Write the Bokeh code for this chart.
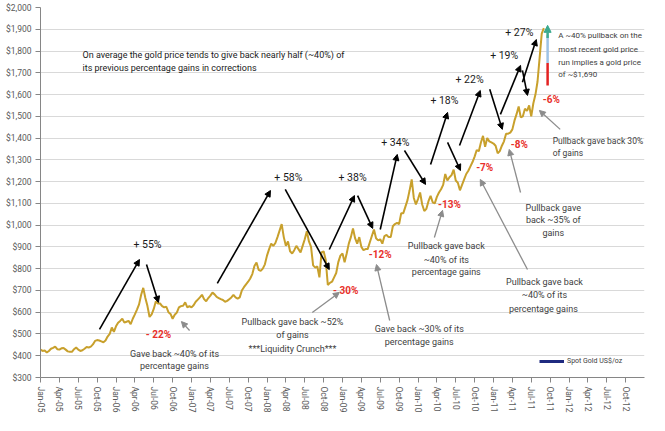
import math
from bokeh.plotting import figure
from bokeh.core.properties import value
from bokeh.models import (Range1d, FixedTicker, NumeralTickFormatter, Arrow, NormalHead,
                          LabelSet, ColumnDataSource, Legend, LegendItem)
from bokeh.embed import file_html
from bokeh.resources import INLINE

# ---------------- data (spot gold, US$/oz, ~3 readings per month) ----------------
gold_2005 = [428, 422, 424, 415, 422, 432, 436, 442, 430, 428, 434, 436, 428, 420, 418, 418, 430, 438,
             428, 422, 425, 432, 440, 438, 442, 452, 468, 472, 470, 466, 462, 470, 488, 500, 530, 510]
gold_2006 = [535, 552, 560, 570, 552, 556, 560, 545, 570, 590, 612, 636, 680, 712, 665, 628, 578, 590,
             615, 650, 640, 640, 628, 622, 625, 600, 592, 570, 588, 598, 622, 628, 630, 645, 622, 628]
gold_2007 = [622, 632, 648, 658, 668, 680, 660, 650, 665, 676, 690, 682, 670, 665, 660, 656, 648, 652,
             660, 668, 680, 668, 662, 668, 700, 715, 728, 740, 755, 775, 812, 828, 795, 790, 800, 820]
gold_2008 = [860, 890, 915, 905, 918, 945, 975, 1005, 945, 905, 925, 880, 870, 885, 905, 890, 875, 905,
             935, 972, 925, 900, 815, 805, 810, 760, 875, 880, 840, 725, 735, 740, 760, 780, 830, 860]
gold_2009 = [870, 830, 870, 915, 945, 985, 940, 915, 945, 900, 885, 890, 890, 920, 950, 980, 940, 930,
             935, 915, 950, 955, 945, 945, 995, 1005, 1010, 1005, 1055, 1055, 1085, 1115, 1160, 1210, 1125, 1095]
gold_2010 = [1120, 1150, 1095, 1065, 1075, 1110, 1135, 1105, 1100, 1130, 1150, 1165, 1185, 1235, 1205,
             1220, 1230, 1255, 1205, 1195, 1160, 1185, 1210, 1235, 1250, 1270, 1290, 1315, 1345, 1340,
             1380, 1410, 1360, 1400, 1385, 1380]
gold_2011 = [1375, 1365, 1330, 1340, 1365, 1385, 1420, 1420, 1425, 1440, 1480, 1510, 1545, 1495, 1500,
             1535, 1525, 1550, 1500, 1560, 1600, 1660, 1770, 1880, 1905]

gold_price = gold_2005 + gold_2006 + gold_2007 + gold_2008 + gold_2009 + gold_2010 + gold_2011
month_pos = [i / 3 for i in range(len(gold_price))]   # months since Jan-05

quarter_labels = ["Jan-05", "Apr-05", "Jul-05", "Oct-05", "Jan-06", "Apr-06", "Jul-06", "Oct-06",
                  "Jan-07", "Apr-07", "Jul-07", "Oct-07", "Jan-08", "Apr-08", "Jul-08", "Oct-08",
                  "Jan-09", "Apr-09", "Jul-09", "Oct-09", "Jan-10", "Apr-10", "Jul-10", "Oct-10",
                  "Jan-11", "Apr-11", "Jul-11", "Oct-11", "Jan-12", "Apr-12", "Jul-12", "Oct-12"]
quarter_ticks = [3 * i for i in range(len(quarter_labels))]
price_ticks = list(range(300, 2001, 100))

gain_text = ["+ 55%", "+ 58%", "+ 38%", "+ 34%", "+ 18%", "+ 22%", "+ 19%", "+ 27%"]
loss_text = ["- 22%", "- 30%", "-12%", "-13%", "-7%", "-8%", "-6%"]

FONT = "Roboto"

p = figure(width=655, height=420, output_backend="svg", toolbar_location=None,
           x_range=Range1d(0, 96), y_range=Range1d(300, 2000),
           min_border_left=40, min_border_right=11, min_border_top=7, min_border_bottom=43)
p.outline_line_color = None
p.background_fill_color = "white"
p.border_fill_color = "white"

p.xgrid.grid_line_color = None
p.ygrid.grid_line_color = "#D9D9D9"
p.ygrid.ticker = FixedTicker(ticks=price_ticks)

p.yaxis.ticker = FixedTicker(ticks=price_ticks)
p.yaxis.formatter = NumeralTickFormatter(format="$0,0")
p.xaxis.ticker = FixedTicker(ticks=quarter_ticks)
p.xaxis.major_label_overrides = {t: l for t, l in zip(quarter_ticks, quarter_labels)}
p.xaxis.major_label_orientation = -math.pi / 2
for ax in (p.xaxis, p.yaxis):
    ax.axis_line_color = "#868686"
    ax.major_tick_line_color = "#868686"
    ax.minor_tick_line_color = None
    ax.major_tick_in = 0
    ax.major_tick_out = 5
    ax.major_label_text_font = FONT
    ax.major_label_text_font_size = "8.5px"
    ax.major_label_text_color = "#595959"
    ax.major_label_standoff = 4

# gold line
p.line(month_pos, gold_price, line_color="#C8A02C", line_width=2)

# legend (navy swatch, as in the original; its data sits outside the visible range)
dummy = p.line([-20, -19], [0, 0], line_color="#1F2A80", line_width=3)
legend = Legend(items=[LegendItem(label="Spot Gold US$/oz", renderers=[dummy])],
                location=(499, 12), background_fill_color="white", border_line_color=None,
                label_text_font=FONT, label_text_font_size="7px", label_text_color="#404040",
                glyph_width=25, glyph_height=6, padding=5, margin=0, label_standoff=3)
p.add_layout(legend)

# --------------- annotations ---------------
def labels(xs, ys, texts, size, color, align="center", style="normal"):
    src = ColumnDataSource(dict(x=xs, y=ys, t=texts))
    p.add_layout(LabelSet(x="x", y="y", text="t", source=src, text_font=value(FONT),
                          text_font_size=value(size), text_color=value(color),
                          text_align=value(align), text_baseline=value("middle"),
                          text_font_style=value(style)))

# gains
labels([17.0, 39.4, 49.6, 56.4, 64.2, 68.2, 73.7, 76.1],
       [911, 1219, 1219, 1380, 1573, 1670, 1780, 1886], gain_text, "10.5px", "#1A1A1A")
# losses
labels([18.75, 48.5, 54.0, 65.0, 70.6, 76.1, 81.2],
       [498, 700, 865, 1095, 1265, 1371, 1578], loss_text, "10px", "#E8312B", style="bold")

# headline note
labels([6.68, 6.68], [1780, 1720],
       ["On average the gold price tends to give back nearly half (~40%) of",
        "its previous percentage gains in corrections"], "9px", "#1A1A1A", align="left")

# gray centred notes
gray_txt = ["Gave back ~40% of its", "percentage gains",
            "Pullback gave back ~52%", "of gains", "***Liquidity Crunch***",
            "Gave back ~30% of its", "percentage gains",
            "Pullback gave back", "~40% of its", "percentage gains",
            "Pullback gave back", "~40% of its", "percentage  gains",
            "Pullback gave", "back ~35% of", "gains"]
gray_x = [21.3, 21.3, 40.05, 40.05, 40.05, 60.2, 60.2, 64.5, 64.5, 64.5,
          80.1, 80.1, 80.1, 81.5, 81.5, 81.5]
gray_y = [410, 355, 553, 493, 433, 521, 465, 902, 842, 787, 737, 677, 617, 1077, 1022, 962]
labels(gray_x, gray_y, gray_txt, "9px", "#404040")
labels([81.4, 81.4], [1385, 1330], ["Pullback gave back 30%", "of gains"], "8.5px", "#404040", align="left")
labels([82.3] * 4, [1872, 1807, 1748, 1693],
       ["A ~40% pullback on the", "most recent gold price", "run implies a gold price", "of ~$1,690"],
       "8px", "#404040", align="left")

# black arrows (start -> head)
blk = dict(x0=[9.38, 16.85, 28.1, 38.9, 45.9, 50.4, 54.0, 57.85, 62.0, 64.7, 66.6, 71.4, 73.1, 76.6, 76.6],
           y0=[521, 819, 732, 1164, 888, 1136, 980, 1343, 1279, 1380, 1366, 1624, 1509, 1711, 1656],
           x1=[15.73, 18.75, 36.55, 45.9, 49.9, 52.8, 56.7, 61.2, 64.7, 66.75, 69.9, 73.4, 76.3, 77.4, 78.8],
           y1=[842, 645, 1159, 796, 1136, 985, 1325, 1187, 1518, 1251, 1619, 1440, 1734, 1596, 1853])
p.add_layout(Arrow(source=ColumnDataSource(blk), x_start="x0", y_start="y0", x_end="x1", y_end="y1",
                   line_color="black", line_width=1.6,
                   end=NormalHead(size=6, fill_color="black", line_color="black")))

# gray pointer arrows
gry = dict(x0=[23.7, 43.2, 55.5, 62.6, 77.4, 76.3, 82.6],
           y0=[516, 599, 562, 943, 796, 1150, 1440],
           x1=[22.4, 47.5, 53.4, 63.9, 69.9, 74.5, 79.3],
           y1=[557, 691, 819, 1068, 1210, 1348, 1527])
p.add_layout(Arrow(source=ColumnDataSource(gry), x_start="x0", y_start="y0", x_end="x1", y_end="y1",
                   line_color="#8C8C8C", line_width=1.3,
                   end=NormalHead(size=6, fill_color="#8C8C8C", line_color="#8C8C8C")))

# coloured target arrow
p.segment([80.6], [1642], [80.6], [1745], line_color="#E32222", line_width=2.5)
p.segment([80.6], [1745], [80.6], [1872], line_color="#9DC3E6", line_width=2.5)
p.add_layout(Arrow(x_start=80.6, y_start=1860, x_end=80.6, y_end=1918, line_color="#3BAA8F",
                   line_width=2.5, end=NormalHead(size=7, fill_color="#3BAA8F", line_color="#3BAA8F")))

open("out.html", "w").write(file_html(p, INLINE))
